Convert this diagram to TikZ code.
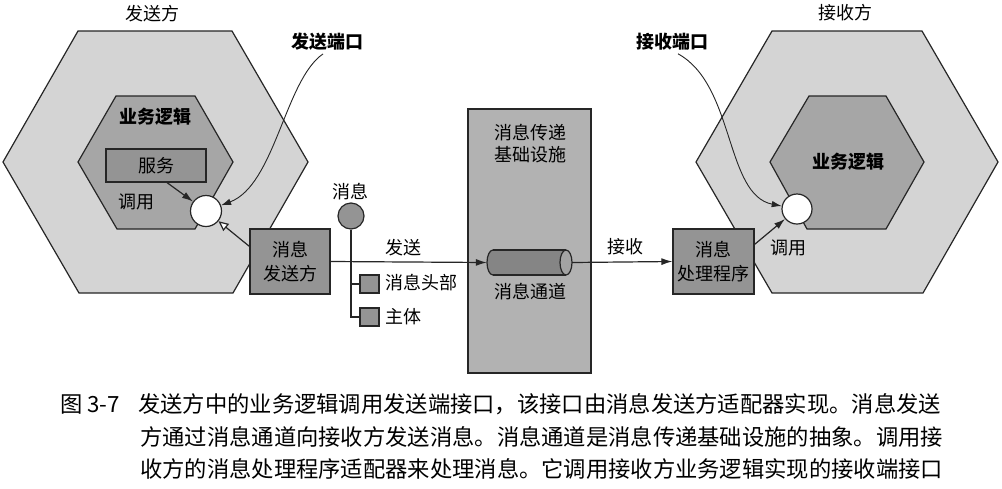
\documentclass[tikz,border=0pt]{standalone}
\usepackage{fontspec}
\setmainfont{Noto Sans CJK SC}
\usetikzlibrary{shapes.geometric,arrows.meta}
\begin{document}
\begin{tikzpicture}[x=1pt,y=-1pt, font=\fontsize{18}{24}\selectfont,
 hexout/.style={fill=black!17, draw=black!85, line width=1.2pt},
 hexin/.style={fill=black!35, draw=black!85, line width=1.2pt},
 box/.style={draw=black!85, line width=1.2pt, fill=black!42, inner sep=0pt, align=center},
 port/.style={circle, draw=black!85, fill=white, line width=1.2pt, minimum size=31pt, inner sep=0pt},
 lbl/.style={inner sep=0pt, align=center},
 conn/.style={draw=black!85, line width=1.2pt},
 arr/.style={conn, -{Latex[length=11pt,width=7pt]}},
 capt/.style={inner sep=0pt, anchor=base west, font=\fontsize{22.3}{26}\selectfont},
]
\useasboundingbox (0,0) rectangle (1002,488);
\fill[white] (0,0) rectangle (1002,488);
% sender hexagons
\path[hexout] (3,162) -- (78,31) -- (232,31) -- (308,162) -- (233,293) -- (79,293) -- cycle;
\path[hexin] (78,162) -- (116,96) -- (195,96) -- (233,162) -- (195,229) -- (117,229) -- cycle;
% receiver hexagons
\path[hexout] (696,162) -- (772,31) -- (922,31) -- (998,162) -- (923,293) -- (772,293) -- cycle;
\path[hexin] (770,162) -- (809,96) -- (886,96) -- (924,162) -- (886,229) -- (807,229) -- cycle;
% titles
\node[lbl] (sendt) at (152,14) {发送方};
\node[lbl] (recvt) at (845,13) {接收方};
\node[lbl, font=\fontsize{18}{24}\selectfont\bfseries] (sport) at (327,42) {发送端口};
\node[lbl, font=\fontsize{18}{24}\selectfont\bfseries] (rport) at (672,42) {接收端口};
\node[lbl, font=\fontsize{18}{24}\selectfont\bfseries] (bizl) at (155,117) {业务逻辑};
\node[lbl, font=\fontsize{18}{24}\selectfont\bfseries] (bizr) at (848,162) {业务逻辑};
\node[lbl] (calll) at (136,202) {调用};
% boxes
\node[box, minimum width=100pt, minimum height=33pt] (svc) at (156,165.5) {服务};
\node[box, minimum width=80pt, minimum height=65pt] (sender) at (290,261.5) {消息\\发送方};
\node[box, fill=black!30, minimum width=123pt, minimum height=264pt] (infra) at (529.5,241) {};
\node[lbl, font=\fontsize{18}{22}\selectfont] (infrat) at (530,144) {消息传递\\基础设施};
\node[box, minimum width=81pt, minimum height=65pt] (handler) at (713.5,261.5) {消息\\处理程序};
% ports
\node[port] (port1) at (206,211) {};
\node[port, minimum size=30pt] (port2) at (797,209) {};
% message
\node[lbl] (msgt) at (350,192) {消息};
\node[circle, draw=black!85, line width=1.2pt, fill=black!42, minimum size=26pt, inner sep=0pt] (msg) at (351,216) {};
\node[box, minimum width=19pt, minimum height=18pt] (hdr) at (369.5,284) {};
\node[box, minimum width=19pt, minimum height=18pt] (body) at (369.5,317) {};
\node[lbl, anchor=west] (hdrt) at (385,283) {消息头部};
\node[lbl, anchor=west] (bodyt) at (385,317) {主体};
\draw[conn] (msg.south) -- (msg.south |- body.west) -- (body.west);
\draw[conn] (msg.south |- hdr.west) -- (hdr.west);
% channel
\node[inner sep=0pt, minimum width=85pt, minimum height=25pt] (chan) at (529.5,262.5) {};
\filldraw[fill=black!48, draw=black!85, line width=1.2pt] (493,262.5) ellipse[x radius=6, y radius=12.5];
\fill[black!48] (493,250) rectangle (566,275);
\draw[conn] (493,250) -- (566,250) (493,275) -- (566,275);
\filldraw[fill=black!36, draw=black!85, line width=1.2pt] (566,262.5) ellipse[x radius=6, y radius=12.5];
\node[lbl] (chant) at (530,292) {消息通道};
% connectors
\draw[arr] (sender.east) -- (chan.west);
\node[lbl] (sendl) at (403,248) {发送};
\draw[arr] (chan.east) -- (handler.west);
\node[lbl] (recvl) at (625,247) {接收};
\draw[arr] ([xshift=11pt]svc.south) -- (port1);
\draw[conn, -{Triangle[open, fill=white, length=10pt, width=9pt]}] ([yshift=-18pt]sender.north west) -- (port1);
\draw[arr] ([yshift=-16pt]handler.north east) -- (port2);
\node[lbl] (callr) at (788,248) {调用};
\draw[conn, line width=0.9pt, -{Latex[length=10pt,width=6.5pt]}] ([xshift=-4pt,yshift=-3pt]sport.south) .. controls (285,80) and (275,185) .. (port1);
\draw[conn, line width=0.9pt, -{Latex[length=10pt,width=6.5pt]}] ([xshift=6pt,yshift=-3pt]rport.south) .. controls (735,85) and (725,195) .. (port2);
% caption
\node[capt] (fig) at (60,412) {图 3-7};
\node[capt] (cap1) at (138,412) {发送方中的业务逻辑调用发送端接口，该接口由消息发送方适配器实现。消息发送};
\node[capt] (cap2) at (140,445) {方通过消息通道向接收方发送消息。消息通道是消息传递基础设施的抽象。调用接};
\node[capt] (cap3) at (140,477) {收方的消息处理程序适配器来处理消息。它调用接收方业务逻辑实现的接收端接口};
\end{tikzpicture}
\end{document}
